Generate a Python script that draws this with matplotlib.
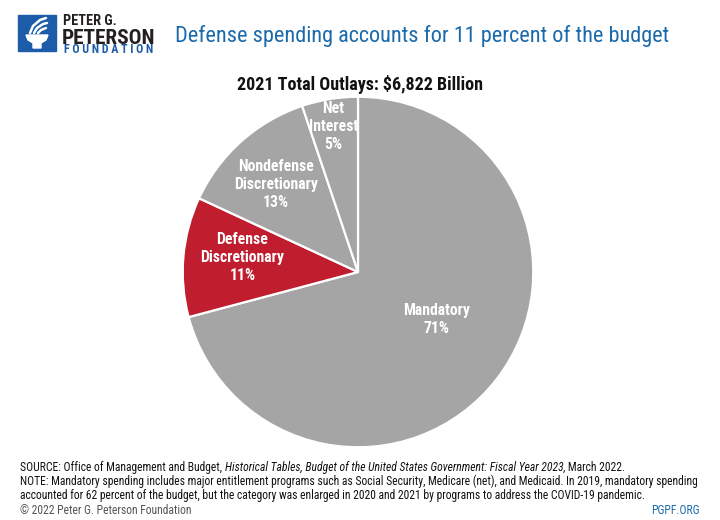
import matplotlib
matplotlib.use("Agg")
import matplotlib.pyplot as plt
from matplotlib.patches import Rectangle, Polygon
from matplotlib.lines import Line2D

plt.rcParams['font.family'] = ['Roboto Condensed', 'DejaVu Sans']

categories = ["Mandatory", "Defense\nDiscretionary", "Nondefense\nDiscretionary", "Net\nInterest"]
values = [4834, 754, 882, 352]  # $ billions, 2021
pct_labels = ["71%", "11%", "13%", "5%"]
colors = ["#a5a5a5", "#c01d2e", "#a5a5a5", "#a5a5a5"]
label_pos = [(0.45, -0.27), (-0.66, 0.08), (-0.47, 0.50), (-0.14, 0.83)]

W, H = 720, 520
fig = plt.figure(figsize=(7.2, 5.2), dpi=100)
fig.patch.set_facecolor("white")
renderer = fig.canvas.get_renderer()


def fx(px):
    return px / W


def fy(py):
    return 1 - py / H


# pie axes
cx, cy, r = 358, 272, 177
ax = fig.add_axes([(cx - r) / W, (H - cy - r) / H, 2 * r / W, 2 * r / H])
ax.pie(values, colors=colors, startangle=90, counterclock=False, radius=1,
       wedgeprops=dict(edgecolor="white", linewidth=1.6))
ax.set_xlim(-1.01, 1.01)
ax.set_ylim(-1.01, 1.01)
ax.set_aspect("equal")
ax.axis("off")
for cat, p, (x, y) in zip(categories, pct_labels, label_pos):
    ax.text(x, y, f"{cat}\n{p}", ha="center", va="center", color="white",
            fontsize=11.3, fontweight="bold", linespacing=1.25)

# logo
blue = "#1c5ca8"
fig.patches.append(Rectangle((fx(18), fy(51)), 38 / W, 36 / H,
                             transform=fig.transFigure, color=blue))
cup = [(26, 35), (48, 35), (46, 40), (41, 43), (41, 48), (33, 48), (33, 43), (28, 40)]
fig.patches.append(Polygon([(fx(a), fy(b)) for a, b in cup], closed=True,
                           transform=fig.transFigure, color="white"))
for pts in ([(30, 33), (33, 26), (40, 20), (46, 18)],
            [(34, 33), (37, 28), (43, 24), (47, 23)],
            [(38, 33), (41, 30), (46, 28)]):
    fig.lines.append(Line2D([fx(a) for a, b in pts], [fy(b) for a, b in pts],
                            transform=fig.transFigure, color="white", lw=1.8,
                            solid_capstyle="round"))
fig.text(fx(63), fy(25), "PETER G.", fontsize=10.3, fontweight="bold",
         color="#231f20", va="baseline", ha="left")
fig.text(fx(62), fy(44), "PETERSON", fontsize=15.3, fontweight="bold",
         color="#231f20", va="baseline", ha="left")
found = "F O U N D A T I O N"
probe = fig.text(0, 0, found, fontsize=10, fontweight="bold")
ffs = 10 * 90 / probe.get_window_extent(renderer).width
probe.remove()
fig.text(fx(64), fy(53), found, fontsize=ffs, fontweight="bold", color=blue,
         va="baseline", ha="left")

# title
fig.text(fx(175), fy(36), "Defense spending accounts for 11 percent of the budget",
         fontsize=16.0, color="#1a6aab", va="center", ha="left")
fig.text(fx(360), fy(84), "2021 Total Outlays: $6,822 Billion",
         fontsize=13, fontweight="bold", color="#111111", va="center", ha="center")

# footer
note1 = ("NOTE: Mandatory spending includes major entitlement programs such as Social Security, "
         "Medicare (net), and Medicaid. In 2019, mandatory spending")
probe = fig.text(0, 0, note1, fontsize=10)
fs = 10 * 680 / probe.get_window_extent(renderer).width
probe.remove()

pieces = [("SOURCE: Office of Management and Budget, ", "normal"),
          ("Historical Tables, Budget of the United States Government: Fiscal Year 2023", "italic"),
          (", March 2022.", "normal")]
x = 20
for s, st in pieces:
    t = fig.text(fx(x), fy(467), s, fontsize=fs, fontstyle=st, color="#111111",
                 va="center", ha="left")
    x = x + t.get_window_extent(renderer).width
fig.text(fx(20), fy(481), note1, fontsize=fs, color="#111111", va="center", ha="left")
fig.text(fx(20), fy(495),
         "accounted for 62 percent of the budget, but the category was enlarged in 2020 and 2021 by programs to address the COVID-19 pandemic.",
         fontsize=fs, color="#111111", va="center", ha="left")
fig.text(fx(20), fy(510), "© 2022 Peter G. Peterson Foundation",
         fontsize=fs, color="#555555", va="center", ha="left")
fig.text(fx(700), fy(510), "PGPF.ORG",
         fontsize=fs, color="#1a6aab", va="center", ha="right")

fig.savefig("out.png", dpi=100, facecolor="white")
